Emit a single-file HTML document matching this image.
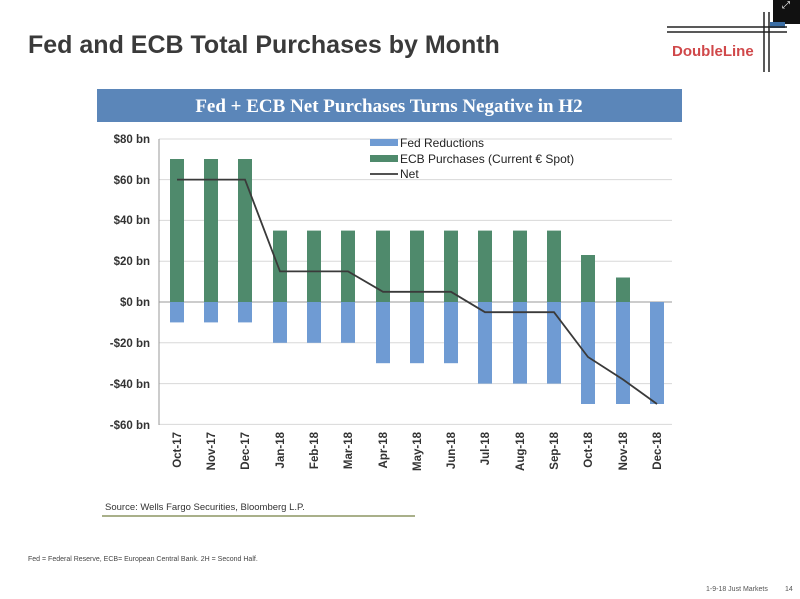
<!DOCTYPE html>
<html><head><meta charset="utf-8"><style>
body{margin:0;background:#fff;}
svg{display:block;font-family:"Liberation Sans",sans-serif;}
</style></head><body>
<svg width="800" height="599" viewBox="0 0 800 599" xmlns="http://www.w3.org/2000/svg">
<rect width="800" height="599" fill="#fff"/>
<text x="28" y="53" font-size="25" font-weight="bold" fill="#3a3a3a">Fed and ECB Total Purchases by Month</text>
<!-- logo -->
<g>
<rect x="773" y="0" width="27" height="24" fill="#111"/>
<rect x="770" y="22" width="15" height="6" fill="#3b6ea5"/>
<line x1="667" y1="27" x2="787" y2="27" stroke="#222" stroke-width="1.5"/>
<line x1="667" y1="32" x2="787" y2="32" stroke="#222" stroke-width="1.5"/>
<line x1="764" y1="12" x2="764" y2="72" stroke="#222" stroke-width="1.5"/>
<line x1="769" y1="12" x2="769" y2="72" stroke="#222" stroke-width="1.5"/>
<text x="672" y="56" font-size="15" font-weight="bold" fill="#d0484a">DoubleLine</text>
<text x="782" y="8" font-size="10" fill="#fff">⤢</text>
</g>
<!-- banner -->
<rect x="97" y="89" width="585" height="33" fill="#5b86b9"/>
<text x="389" y="112" font-size="19" font-weight="bold" fill="#fff" text-anchor="middle" font-family="Liberation Serif,serif">Fed + ECB Net Purchases Turns Negative in H2</text>
<!-- gridlines -->
<g stroke="#d8d8d8" stroke-width="1">
<line x1="159" y1="139" x2="672" y2="139"/>
<line x1="159" y1="179.6" x2="672" y2="179.6"/>
<line x1="159" y1="220.4" x2="672" y2="220.4"/>
<line x1="159" y1="261.2" x2="672" y2="261.2"/>
<line x1="159" y1="342.8" x2="672" y2="342.8"/>
<line x1="159" y1="383.6" x2="672" y2="383.6"/>
<line x1="159" y1="424.4" x2="672" y2="424.4"/>
</g>
<line x1="159" y1="139" x2="159" y2="425" stroke="#999"/>
<line x1="159" y1="302" x2="672" y2="302" stroke="#999"/>
<g font-size="11.5" font-weight="bold" fill="#333" text-anchor="end">
<text x="150" y="143">$80 bn</text>
<text x="150" y="184">$60 bn</text>
<text x="150" y="224">$40 bn</text>
<text x="150" y="265">$20 bn</text>
<text x="150" y="306">$0 bn</text>
<text x="150" y="347">-$20 bn</text>
<text x="150" y="388">-$40 bn</text>
<text x="150" y="429">-$60 bn</text>
</g>
<g id="bars"></g>
<g fill="#4f8a6c">
<rect x="170" y="159" width="14" height="143"/>
<rect x="204" y="159" width="14" height="143"/>
<rect x="238" y="159" width="14" height="143"/>
<rect x="273" y="230.6" width="14" height="71.4"/>
<rect x="307" y="230.6" width="14" height="71.4"/>
<rect x="341" y="230.6" width="14" height="71.4"/>
<rect x="376" y="230.6" width="14" height="71.4"/>
<rect x="410" y="230.6" width="14" height="71.4"/>
<rect x="444" y="230.6" width="14" height="71.4"/>
<rect x="478" y="230.6" width="14" height="71.4"/>
<rect x="513" y="230.6" width="14" height="71.4"/>
<rect x="547" y="230.6" width="14" height="71.4"/>
<rect x="581" y="255" width="14" height="47"/>
<rect x="616" y="277.5" width="14" height="24.5"/>
</g>
<g fill="#6f9bd3">
<rect x="170" y="302" width="14" height="20.4"/>
<rect x="204" y="302" width="14" height="20.4"/>
<rect x="238" y="302" width="14" height="20.4"/>
<rect x="273" y="302" width="14" height="40.8"/>
<rect x="307" y="302" width="14" height="40.8"/>
<rect x="341" y="302" width="14" height="40.8"/>
<rect x="376" y="302" width="14" height="61.2"/>
<rect x="410" y="302" width="14" height="61.2"/>
<rect x="444" y="302" width="14" height="61.2"/>
<rect x="478" y="302" width="14" height="81.6"/>
<rect x="513" y="302" width="14" height="81.6"/>
<rect x="547" y="302" width="14" height="81.6"/>
<rect x="581" y="302" width="14" height="102"/>
<rect x="616" y="302" width="14" height="102"/>
<rect x="650" y="302" width="14" height="102"/>
</g>
<polyline fill="none" stroke="#3a3a3a" stroke-width="1.8" points="177,179.6 211,179.6 245,179.6 280,271.4 314,271.4 348,271.4 383,291.8 417,291.8 451,291.8 485,312.2 520,312.2 554,312.2 588,357 623,379.5 657,404"/>
<!-- legend -->
<rect x="370" y="139" width="28" height="7" fill="#6f9bd3"/>
<text x="400" y="147" font-size="12" fill="#222">Fed Reductions</text>
<rect x="370" y="155" width="28" height="7" fill="#4f8a6c"/>
<text x="400" y="163" font-size="12" fill="#222">ECB Purchases (Current € Spot)</text>
<line x1="370" y1="174" x2="398" y2="174" stroke="#3a3a3a" stroke-width="1.8"/>
<text x="400" y="178" font-size="12" fill="#222">Net</text>
<!-- x labels -->
<g font-size="11.5" font-weight="bold" fill="#333" text-anchor="end">
<text transform="translate(181,432) rotate(-90)">Oct-17</text>
<text transform="translate(215,432) rotate(-90)">Nov-17</text>
<text transform="translate(249,432) rotate(-90)">Dec-17</text>
<text transform="translate(284,432) rotate(-90)">Jan-18</text>
<text transform="translate(318,432) rotate(-90)">Feb-18</text>
<text transform="translate(352,432) rotate(-90)">Mar-18</text>
<text transform="translate(387,432) rotate(-90)">Apr-18</text>
<text transform="translate(421,432) rotate(-90)">May-18</text>
<text transform="translate(455,432) rotate(-90)">Jun-18</text>
<text transform="translate(489,432) rotate(-90)">Jul-18</text>
<text transform="translate(524,432) rotate(-90)">Aug-18</text>
<text transform="translate(558,432) rotate(-90)">Sep-18</text>
<text transform="translate(592,432) rotate(-90)">Oct-18</text>
<text transform="translate(627,432) rotate(-90)">Nov-18</text>
<text transform="translate(661,432) rotate(-90)">Dec-18</text>
</g>
<text x="105" y="510" font-size="9.5" fill="#333">Source: Wells Fargo Securities, Bloomberg L.P.</text>
<line x1="102" y1="516" x2="415" y2="516" stroke="#a9b08a" stroke-width="2"/>
<text x="28" y="561" font-size="7" fill="#444">Fed = Federal Reserve, ECB= European Central Bank. 2H = Second Half.</text>
<text x="706" y="591" font-size="7" fill="#555">1-9-18 Just Markets</text>
<text x="785" y="591" font-size="7" fill="#555">14</text>
</svg>
</body></html>
